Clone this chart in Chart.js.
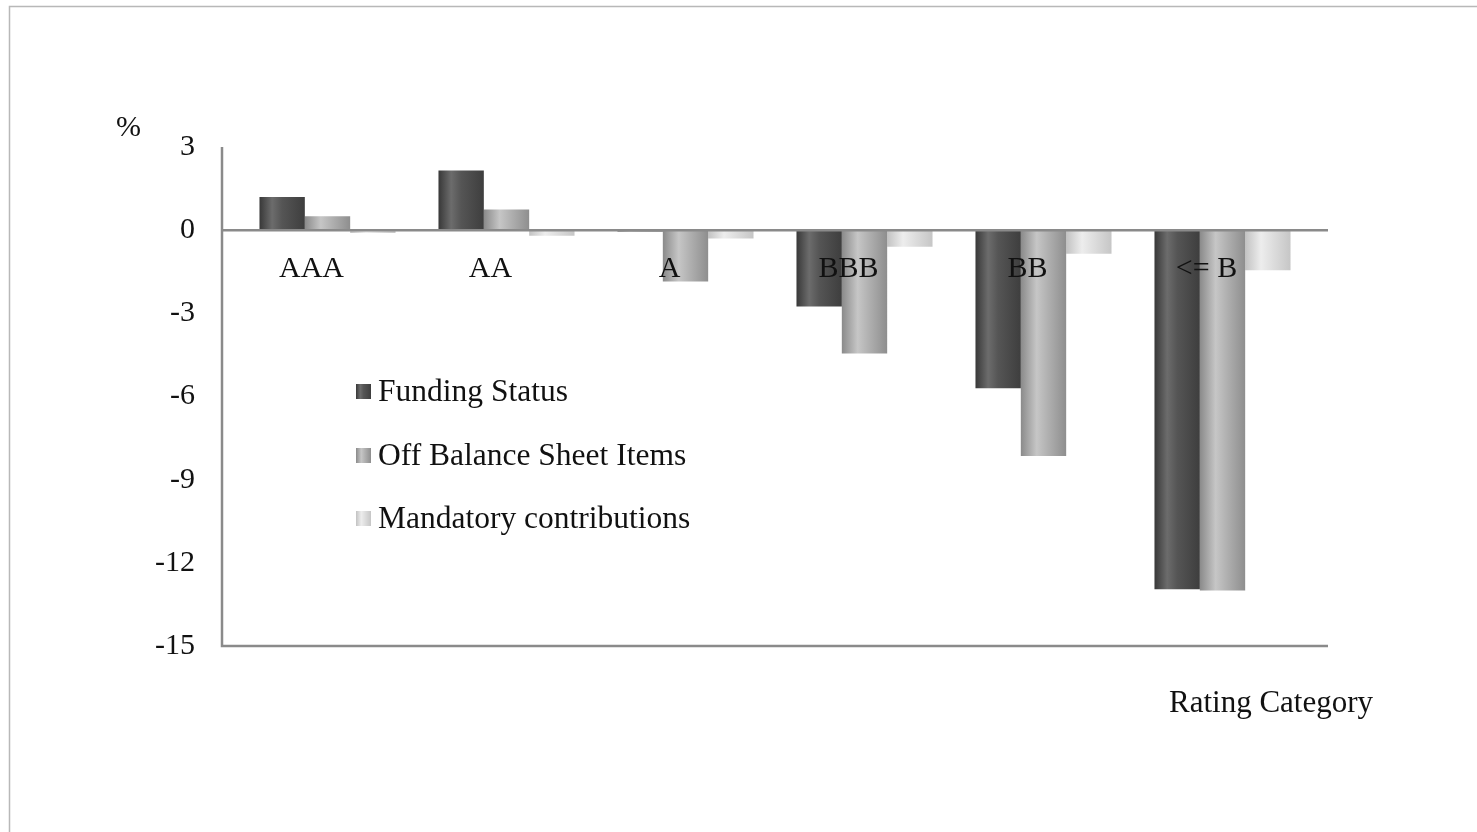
<!DOCTYPE html>
<html>
<head>
<meta charset="utf-8">
<script src="https://cdn.jsdelivr.net/npm/chart.js@4.4.1/dist/chart.umd.min.js"></script>
<style>
  html, body { margin: 0; padding: 0; background: #fff; }
  #wrap { width: 1477px; height: 832px; position: relative; }
</style>
</head>
<body>
<div id="wrap"><canvas id="c" width="1477" height="832"></canvas></div>
<script>
// Rating categories and the three contribution series (in %)
const categories = ['AAA', 'AA', 'A', 'BBB', 'BB', '<= B'];
const fundingStatus = [1.2, 2.15, -0.05, -2.75, -5.7, -12.95];
const offBalanceSheet = [0.5, 0.75, -1.85, -4.45, -8.15, -13.0];
const mandatoryContributions = [-0.1, -0.2, -0.3, -0.6, -0.85, -1.45];
const yTicks = [3, 0, -3, -6, -9, -12, -15];

const FONT = 'Liberation Serif, Times New Roman, serif';
const TEXT = '#111111';
const CAT_PCT = 0.76;

// cylinder-like shading for each series
const shades = [
  [[0, '#383838'], [0.28, '#6c6c6c'], [0.5, '#555555'], [1, '#3e3e3e']],
  [[0, '#8a8a8a'], [0.35, '#c6c6c6'], [0.6, '#b0b0b0'], [1, '#8e8e8e']],
  [[0, '#c2c2c2'], [0.35, '#ededed'], [0.6, '#dedede'], [1, '#c6c6c6']]
];
const flat = ['#505050', '#a8a8a8', '#d6d6d6'];

function barFill(c) {
  const chart = c.chart;
  const xs = chart.scales.x;
  if (!xs || !chart.chartArea || c.dataIndex === undefined) return flat[c.datasetIndex];
  const n = chart.data.labels.length;
  const catW = xs.width / n;
  const groupW = catW * CAT_PCT;
  const barW = groupW / chart.data.datasets.length;
  const center = xs.getPixelForValue(c.dataIndex);
  const left = center - groupW / 2 + c.datasetIndex * barW;
  const g = chart.ctx.createLinearGradient(left, 0, left + barW, 0);
  shades[c.datasetIndex].forEach(([o, col]) => g.addColorStop(o, col));
  return g;
}

// frame, axis lines, legend and titles
const decor = {
  id: 'decor',
  beforeDraw(chart) {
    const ctx = chart.ctx;
    ctx.save();
    ctx.fillStyle = '#fff';
    ctx.fillRect(0, 0, chart.width, chart.height);
    ctx.strokeStyle = '#b8b8b8';
    ctx.lineWidth = 1.5;
    ctx.strokeRect(9.5, 6.5, 1600, 1000);
    ctx.restore();
  },
  afterDatasetsDraw(chart) {
    const ctx = chart.ctx;
    const ys = chart.scales.y;
    const axisX = 222, endX = 1328;
    const top = ys.getPixelForValue(3), zero = ys.getPixelForValue(0), bottom = ys.getPixelForValue(-15);
    ctx.save();
    ctx.strokeStyle = '#8a8a8a';
    ctx.lineWidth = 2.5;
    ctx.beginPath();
    ctx.moveTo(axisX, top);
    ctx.lineTo(axisX, bottom);
    ctx.lineTo(endX, bottom);
    ctx.moveTo(axisX, zero);
    ctx.lineTo(endX, zero);
    ctx.stroke();

    // legend
    ctx.font = '31.5px ' + FONT;
    ctx.textBaseline = 'middle';
    ctx.textAlign = 'left';
    const rows = [392, 456, 519];
    chart.data.datasets.forEach((ds, i) => {
      const y = rows[i];
      const g = ctx.createLinearGradient(356, 0, 371, 0);
      shades[i].forEach(([o, col]) => g.addColorStop(o, col));
      ctx.fillStyle = g;
      ctx.fillRect(356, y - 8, 15, 15);
      ctx.fillStyle = TEXT;
      ctx.fillText(ds.label, 378, y + 1);
    });

    // unit and axis title
    ctx.font = '30px ' + FONT;
    ctx.fillText('%', 116, 128);
    ctx.font = '31px ' + FONT;
    ctx.fillText('Rating Category', 1169, 704);
    ctx.restore();
  }
};

new Chart(document.getElementById('c'), {
  type: 'bar',
  data: {
    labels: categories,
    datasets: [
      { label: 'Funding Status', data: fundingStatus, backgroundColor: barFill },
      { label: 'Off Balance Sheet Items', data: offBalanceSheet, backgroundColor: barFill },
      { label: 'Mandatory contributions', data: mandatoryContributions, backgroundColor: barFill }
    ]
  },
  options: {
    responsive: false,
    animation: false,
    events: [],
    layout: { padding: { left: 100, right: 165, top: 147, bottom: 186 } },
    datasets: {
      bar: {
        categoryPercentage: CAT_PCT,
        barPercentage: 1.0,
        borderWidth: 0
      }
    },
    plugins: {
      colors: { enabled: false },
      legend: { display: false },
      tooltip: { enabled: false }
    },
    scales: {
      x: {
        type: 'category',
        position: { y: 0 },
        grid: { display: false, drawTicks: false },
        border: { display: false },
        ticks: {
          z: 1,
          color: TEXT,
          font: { family: FONT, size: 30 },
          padding: 21,
          labelOffset: -16,
          maxRotation: 0,
          autoSkip: false
        }
      },
      y: {
        min: -15,
        max: 3,
        afterFit(scale) { scale.width = 138; },
        afterBuildTicks(scale) { scale.ticks = yTicks.map(v => ({ value: v })); },
        grid: { display: false, drawTicks: false },
        border: { display: false },
        ticks: {
          color: TEXT,
          font: { family: FONT, size: 30 },
          padding: 43
        }
      }
    }
  },
  plugins: [decor]
});
</script>
</body>
</html>
